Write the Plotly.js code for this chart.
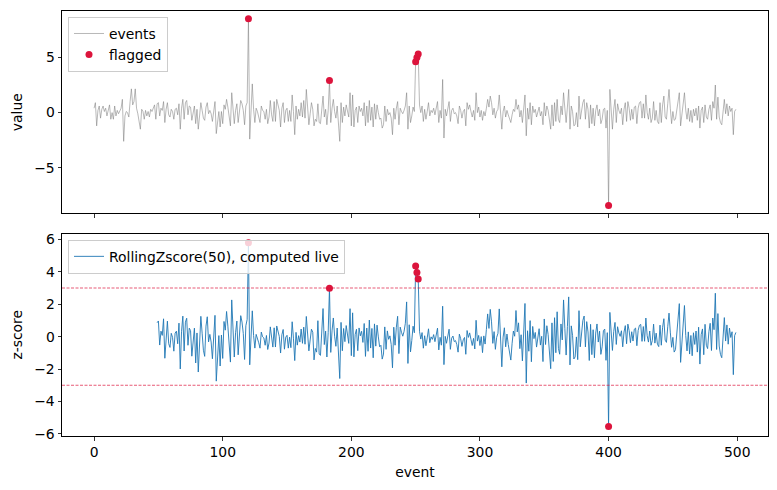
<!DOCTYPE html>
<html>
<head>
<meta charset="utf-8">
<script src="https://cdn.plot.ly/plotly-3.0.1.min.js"></script>
<style>html,body{margin:0;padding:0;background:#fff;}#chart{width:777px;height:490px;}</style>
</head>
<body>
<div id="chart"></div>
<script>
// event values
const values = [
0.4, 0.9, -1.2, 0.2, 0.6, -0.5, 0.3, 0.6, 0.1, 0.4,
-0.3, 0.2, 0.7, -0.6, 0.0, -0.6, 0.6, -0.3, 0.2, -0.1,
0.1, 0.4, 1.2, -2.6, -0.3, 0.1, 0.0, -0.4, 1.0, 2.15,
0.7, 1.0, 2.15, 0.4, -0.1, -0.9, -1.5, 0.3, 0.1, -0.6,
0.2, -0.3, 0.1, -0.4, 0.3, 0.1, 0.5, 0.7, -0.6, 0.8,
0.9, -0.3, 0.4, 0.2, 1.0, -0.9, 0.3, 0.9, -0.2, -0.4,
0.3, 0.1, -0.6, 0.3, 0.4, -0.2, 0.8, -1.5, 0.4, 1.2,
-0.6, 0.9, 1.1, -0.2, 0.6, 0.5, -0.7, 0.2, 0.6, -1.0,
0.3, -1.5, -0.4, 0.9, 0.2, -0.5, -0.7, 0.5, 0.9, -0.1,
0.2, -0.1, -0.8, 0.4, 1.0, -1.9, -0.5, 0.1, -1.3, 0.1,
-1.0, 0.7, 0.3, 1.2, 0.5, -0.6, -1.2, 1.8, 0.4, -1.0,
0.2, 0.8, -0.9, 0.3, 1.1, 0.8, 0.2, -1.1, 0.6, 0.9,
8.5, -2.4, 0.5, 2.6, 0.3, -0.9, 0.4, 0.1, -0.4, -0.9,
0.6, 0.2, 0.1, -0.6, 0.3, -1.0, -0.4, 1.1, -0.2, -0.8,
1.0, -0.8, 1.2, 0.6, 0.2, -1.3, 0.4, 0.9, -0.9, 0.2,
0.4, -0.8, 0.2, -0.8, 1.6, 0.1, -2.0, 0.6, -0.6, 0.3,
-0.3, 0.9, -0.4, 1.1, -0.5, 2.1, 0.3, -1.1, -0.1, 0.9,
0.3, -1.2, -0.6, -0.8, 0.8, -0.9, -1.0, 0.5, 1.5, -0.4,
0.3, -1.1, 0.2, 2.9, -0.9, 0.4, 1.2, 0.1, -0.5, 0.6,
-1.0, -2.6, 0.9, -0.9, 0.5, -0.3, 0.7, 0.2, -0.4, 1.8,
-1.2, 1.6, -1.3, 0.2, 0.5, -0.9, 0.6, 0.1, 0.4, -0.3,
0.9, -1.2, 0.6, -0.9, 1.1, -0.7, 0.5, -1.3, 0.8, -0.6,
0.7, 0.0, -0.6, -0.5, -1.4, -1.1, 0.6, -0.8, 0.3, -0.2,
0.0, -0.5, -2.0, 0.4, -0.6, 0.4, 1.0, -1.1, 0.4, 0.1,
-0.1, 0.2, 0.6, 1.8, -1.5, 0.6, -0.9, -0.3, 0.5, 0.1,
4.6, 5.0, 5.3, 0.7, 0.0, 0.6, -0.8, 0.3, -0.6, 0.1,
0.9, -0.3, 0.2, 0.0, 0.4, -0.2, 0.3, 1.0, -0.9, 0.2,
-0.5, 3.0, -2.3, 0.3, -0.3, 0.4, 1.0, -0.8, 0.2, 0.4,
-0.1, 0.0, -0.3, -1.0, 0.6, 0.2, -0.5, 0.1, 0.3, -1.2,
0.9, 0.3, 0.7, 0.1, -0.4, 0.2, -0.7, 1.8, 0.0, 0.5,
-0.4, 0.2, -0.7, 0.1, -0.3, 0.4, 1.2, 0.5, 1.5, 0.9,
-0.2, 0.4, -0.5, 0.1, 0.3, 1.6, -0.5, -1.5, 0.1, 0.6,
-0.4, 0.2, -0.2, -0.6, -0.9, -0.2, 0.3, 0.1, 1.2, 0.3,
0.7, -0.4, 0.2, -0.9, 0.4, 1.6, -2.1, 0.4, -0.6, 0.9,
-1.1, 0.6, 0.0, 0.3, -0.4, 0.2, 0.5, -0.3, 0.1, -1.1,
0.9, -0.3, 0.6, 0.2, -0.5, -1.5, 0.7, -1.2, 0.9, -0.8,
1.2, -0.6, -0.9, 0.6, -0.2, 1.8, 0.4, -0.9, 0.5, 2.1,
-1.5, 0.6, 0.1, -1.2, -1.1, 0.0, -1.3, 1.5, -0.6, 0.3,
0.9, 1.2, -0.6, 0.9, 0.3, -1.4, 0.7, -1.0, 0.4, -1.2,
0.2, 0.7, -0.3, 0.3, -1.0, -0.6, 0.3, 0.4, -1.4, 0.2,
-8.4, 2.1, 0.2, -1.5, 0.3, 1.2, -0.9, 0.8, 0.2, -0.1,
0.4, -1.1, 0.3, 0.9, -0.8, 1.0, 0.4, -0.7, 0.3, -0.6,
0.5, 0.6, -1.0, 0.4, 0.9, 1.0, -0.5, 0.8, -0.5, 1.6,
0.0, -0.6, 0.4, -0.9, -0.5, 1.0, -0.7, 0.2, -0.8, -1.0,
0.9, -0.9, 0.7, 1.5, -0.4, -0.6, 0.8, 2.1, 0.4, -1.0,
0.1, -0.7, -0.6, 0.3, 0.9, 1.8, -1.2, -0.3, 0.6, 1.8,
0.2, -0.6, 0.4, -0.8, 0.2, -0.9, 0.3, -0.3, 0.4, -0.7,
0.6, -1.4, 0.2, 0.5, -0.9, 0.7, -0.4, -0.6, 0.3, 0.7,
-0.7, 1.0, 0.4, 2.5, -0.6, 1.4, -0.4, -0.9, -1.1, 0.5,
1.2, -0.1, 0.8, -0.3, 0.6, 0.1, 0.4, -2.0, 0.1, 0.3
];
const flaggedIdx = [120, 183, 250, 251, 252, 400];
const windowSize = 50;
const thresholds = [3, -3];
const xTicks = [0, 100, 200, 300, 400, 500];

const idx = values.map((_, i) => i);
// rolling z-score computed live
const zx = [], zy = [];
for (let i = windowSize - 1; i < values.length; i++) {
  const w = values.slice(i - windowSize + 1, i + 1);
  const m = w.reduce((a, b) => a + b, 0) / w.length;
  const sd = Math.sqrt(w.reduce((a, b) => a + (b - m) * (b - m), 0) / w.length);
  zx.push(i); zy.push((values[i] - m) / sd);
}
const zAt = {};
zx.forEach((x, k) => { zAt[x] = zy[k]; });

const font = {family: 'DejaVu Sans, sans-serif', size: 13.9, color: '#000'};
const traces = [
  {x: idx, y: values, type: 'scatter', mode: 'lines', name: 'events',
   line: {color: 'rgba(128,128,128,0.8)', width: 0.7}, xaxis: 'x', yaxis: 'y', legend: 'legend'},
  {x: flaggedIdx, y: flaggedIdx.map(i => values[i]), type: 'scatter', mode: 'markers', name: 'flagged',
   marker: {color: '#DC143C', size: 7}, xaxis: 'x', yaxis: 'y', legend: 'legend'},
  {x: zx, y: zy, type: 'scatter', mode: 'lines', name: 'RollingZscore(50), computed live',
   line: {color: '#1f77b4', width: 0.9}, xaxis: 'x2', yaxis: 'y2', legend: 'legend2'},
  {x: flaggedIdx, y: flaggedIdx.map(i => zAt[i]), type: 'scatter', mode: 'markers', showlegend: false,
   marker: {color: '#DC143C', size: 7}, xaxis: 'x2', yaxis: 'y2'}
];

const axCommon = {showline: true, mirror: true, linecolor: '#000', linewidth: 1,
  ticks: 'outside', ticklen: 3.5, tickwidth: 0.8, tickcolor: '#000',
  showgrid: false, zeroline: false, tickfont: font};

const layout = {
  width: 777, height: 490,
  margin: {l: 62, r: 9, t: 11, b: 53.7},
  paper_bgcolor: '#fff', plot_bgcolor: '#fff',
  font: font,
  xaxis: Object.assign({}, axCommon, {domain: [0, 1], range: [-24.95, 523.95], tickvals: xTicks,
    showticklabels: false, anchor: 'y'}),
  yaxis: Object.assign({}, axCommon, {domain: [0.5239, 1], range: [-9.12, 9.2], tickvals: [-5, 0, 5],
    ticktext: ['\u22125', '0', '5'], title: {text: 'value', font: font, standoff: 8}, anchor: 'x'}),
  xaxis2: Object.assign({}, axCommon, {domain: [0, 1], range: [-24.95, 523.95], tickvals: xTicks,
    anchor: 'y2', title: {text: 'event', font: font, standoff: 8}}),
  yaxis2: Object.assign({}, axCommon, {domain: [0, 0.4764], range: [-6.13, 6.36], tickvals: [-6, -4, -2, 0, 2, 4, 6],
    ticktext: ['\u22126', '\u22124', '\u22122', '0', '2', '4', '6'],
    title: {text: 'z-score', font: font, standoff: 8}, anchor: 'x2'}),
  shapes: thresholds.map(t => ({type: 'line', xref: 'x2 domain', x0: 0, x1: 1, yref: 'y2', y0: t, y1: t,
    line: {color: '#DC143C', width: 0.7, dash: '3px,1.5px'}})),
  legend: {x: 0.0085, y: 0.986, xanchor: 'left', yanchor: 'top', bgcolor: 'rgba(255,255,255,0.8)',
    bordercolor: '#cccccc', borderwidth: 1, font: font, tracegroupgap: 0},
  legend2: {x: 0.0085, y: 0.4616, xanchor: 'left', yanchor: 'top', bgcolor: 'rgba(255,255,255,0.8)',
    bordercolor: '#cccccc', borderwidth: 1, font: font},
  showlegend: true
};

Plotly.newPlot('chart', traces, layout, {displayModeBar: false, staticPlot: true});
</script>
</body>
</html>
